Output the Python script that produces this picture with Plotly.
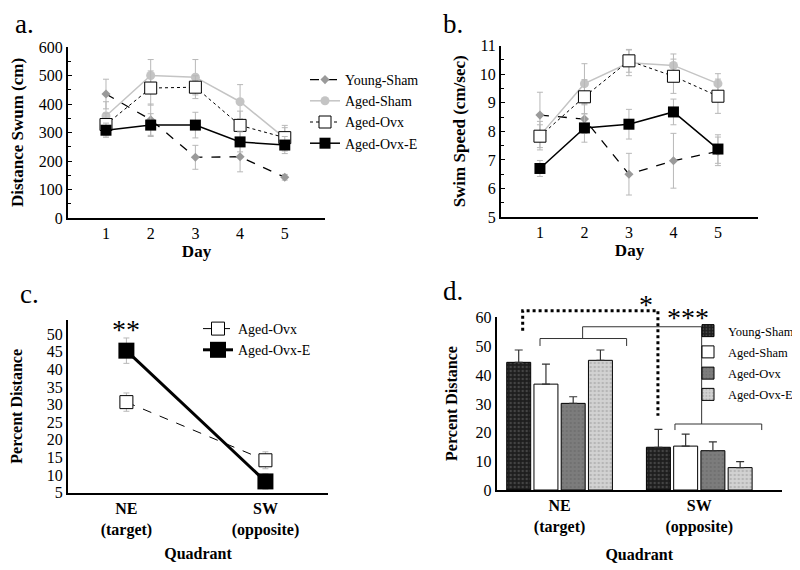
import plotly.graph_objects as go

FONT = "Liberation Serif"

# ---------------- data ----------------
days = [1, 2, 3, 4, 5]
groups = ["Young-Sham", "Aged-Sham", "Aged-Ovx", "Aged-Ovx-E"]

# panel a: distance swum (cm)
dist_young = [435, 345, 213, 215, 143]
dist_young_err = [52, 55, 42, 53, 10]
dist_agedsham = [358, 500, 494, 408, 280]
dist_agedsham_err = [50, 56, 62, 60, 45]
dist_ovx = [328, 456, 459, 325, 282]
dist_ovx_err = [40, 60, 40, 50, 35]
dist_ovxe = [308, 326, 326, 267, 256]
dist_ovxe_err = [25, 40, 45, 35, 30]

# panel b: swim speed (cm/sec)
speed_young = [8.57, 8.43, 6.5, 6.97, 7.3]
speed_young_err = [0.8, 0.5, 0.73, 0.96, 0.5]
speed_agedsham = [7.85, 9.67, 10.4, 10.31, 9.67]
speed_agedsham_err = [0.5, 0.7, 0.45, 0.4, 0.35]
speed_ovx = [7.83, 9.21, 10.47, 9.93, 9.23]
speed_ovx_err = [0.4, 0.6, 0.4, 0.6, 0.6]
speed_ovxe = [6.7, 8.12, 8.25, 8.68, 7.38]
speed_ovxe_err = [0.28, 0.5, 0.52, 0.45, 0.5]

# panel c / d: percent distance by quadrant
quad_pos = [0, 1]
quad_labels = ["<b>NE</b><br><b>(target)</b>", "<b>SW</b><br><b>(opposite)</b>"]
pct_c_ovx = [30.7, 14.2]
pct_c_ovx_err = [2.6, 2.4]
pct_c_ovxe = [45.3, 8.2]
pct_c_ovxe_err = [3.6, 2.2]

pct_young = [44.5, 14.9]
pct_young_err = [4.3, 6.2]
pct_agedsham = [36.9, 15.3]
pct_agedsham_err = [7.0, 4.2]
pct_ovx = [30.2, 13.7]
pct_ovx_err = [2.3, 3.1]
pct_ovxe = [45.2, 7.8]
pct_ovxe_err = [3.6, 2.1]

# ---------------- layout geometry ----------------
# the page body has an 8px margin, so the figure is drawn 8px in from the window corner
OFF = 8
W, H = 800 - OFF, 570 - OFF
def px_x(p): return (p - OFF) / W
def px_y(p): return 1 - (p - OFF) / H

dom = {
    "a": ([px_x(68), px_x(325)], [px_y(218), px_y(47)]),
    "b": ([px_x(501), px_x(758)], [px_y(217), px_y(45.7)]),
    "c": ([px_x(68), px_x(328)], [px_y(492.7), px_y(320)]),
    "d": ([px_x(496.7), px_x(781.7)], [px_y(490), px_y(317)]),
}
rng = {
    "a": ([0.15, 5.9], [0, 600]),
    "b": ([0.125, 5.9], [5, 11]),
    "c": ([-0.42, 1.45], [5, 54]),
    "d": ([-0.45, 1.59], [0, 60.3]),
}

def paper(panel, x, y):
    (dx, dy), (rx, ry) = dom[panel], rng[panel]
    px = dx[0] + (x - rx[0]) / (rx[1] - rx[0]) * (dx[1] - dx[0])
    py = dy[0] + (y - ry[0]) / (ry[1] - ry[0]) * (dy[1] - dy[0])
    return px, py

fig = go.Figure()

ERR = dict(type="data", color="#b8b8b8", thickness=1, width=3, visible=True)

def line_traces(xa, ya, vals, errs, show, legend):
    specs = [
        ("Young-Sham", dict(symbol="diamond", size=7, color="#9a9a9a"), dict(color="black", width=1.3, dash="dash")),
        ("Aged-Sham", dict(symbol="circle", size=9, color="#c4c4c4"), dict(color="#c4c4c4", width=1.5)),
        ("Aged-Ovx", dict(symbol="square", size=12, color="white", line=dict(color="black", width=1)), dict(color="black", width=1, dash="dot")),
        ("Aged-Ovx-E", dict(symbol="square", size=11, color="black"), dict(color="black", width=1.5)),
    ]
    for (name, mk, ln), v, e in zip(specs, vals, errs):
        fig.add_trace(go.Scatter(
            x=days, y=v, name=name, mode="lines+markers", marker=mk, line=ln,
            error_y=dict(array=e, **ERR), xaxis=xa, yaxis=ya,
            showlegend=show, legend=legend, cliponaxis=False))

line_traces("x", "y",
            [dist_young, dist_agedsham, dist_ovx, dist_ovxe],
            [dist_young_err, dist_agedsham_err, dist_ovx_err, dist_ovxe_err], True, "legend")
line_traces("x2", "y2",
            [speed_young, speed_agedsham, speed_ovx, speed_ovxe],
            [speed_young_err, speed_agedsham_err, speed_ovx_err, speed_ovxe_err], False, "legend")

# panel c
fig.add_trace(go.Scatter(
    x=quad_pos, y=pct_c_ovx, name="Aged-Ovx", mode="lines+markers",
    marker=dict(symbol="square", size=13, color="white", line=dict(color="black", width=1)),
    line=dict(color="black", width=1, dash="dash"),
    error_y=dict(array=pct_c_ovx_err, **ERR), xaxis="x3", yaxis="y3",
    legend="legend2", cliponaxis=False))
fig.add_trace(go.Scatter(
    x=quad_pos, y=pct_c_ovxe, name="Aged-Ovx-E", mode="lines+markers",
    marker=dict(symbol="square", size=16, color="black"),
    line=dict(color="black", width=3),
    error_y=dict(array=pct_c_ovxe_err, **ERR), xaxis="x3", yaxis="y3",
    legend="legend2", cliponaxis=False))

# panel d bars
bar_specs = [
    ("Young-Sham", pct_young, pct_young_err, "#1e1e1e", dict(shape=".", fgcolor="#6a6a6a", size=4, solidity=0.3)),
    ("Aged-Sham", pct_agedsham, pct_agedsham_err, "white", dict(shape="")),
    ("Aged-Ovx", pct_ovx, pct_ovx_err, "#7c7c7c", dict(shape=".", fgcolor="#5e5e5e", size=4, solidity=0.2)),
    ("Aged-Ovx-E", pct_ovxe, pct_ovxe_err, "#d2d2d2", dict(shape=".", fgcolor="#9a9a9a", size=4, solidity=0.3)),
]
for name, v, e, col, pat in bar_specs:
    fig.add_trace(go.Bar(
        x=quad_pos, y=v, name=name, legendgroup="d-" + name,
        marker=dict(color=col, line=dict(color="black", width=1), pattern=pat),
        error_y=dict(type="data", array=e, arrayminus=[0, 0], color="#333333", thickness=1.2, width=4),
        xaxis="x4", yaxis="y4", legend="legend3"))

# ---------------- axes ----------------
def axis_common(**kw):
    base = dict(showline=True, linecolor="black", linewidth=2, showgrid=False, zeroline=False,
                automargin=False,
                tickfont=dict(family=FONT, size=16, color="black"), ticks="")
    base.update(kw)
    return base

tf = lambda s: dict(family=FONT, size=s, color="black")

fig.update_layout(
    width=W, height=H, margin=dict(l=0, r=0, t=0, b=0, autoexpand=False),
    paper_bgcolor="white", plot_bgcolor="white",
    font=dict(family=FONT, color="black"),
    barmode="group", bargap=0.22, bargroupgap=0.12,
    xaxis=axis_common(domain=dom["a"][0], range=rng["a"][0], anchor="y", tickvals=days,
                      title=dict(text="<b>Day</b>", font=tf(17), standoff=4)),
    yaxis=axis_common(domain=dom["a"][1], range=rng["a"][1], anchor="x", dtick=100,
                      ticks="inside", ticklen=4, tickcolor="black",
                      minor=dict(dtick=50, ticks="inside", ticklen=3, tickcolor="black"),
                      title=dict(text="<b>Distance Swum (cm)</b>", font=tf(17), standoff=11)),
    xaxis2=axis_common(domain=dom["b"][0], range=rng["b"][0], anchor="y2", tickvals=days,
                       title=dict(text="<b>Day</b>", font=tf(17), standoff=4)),
    yaxis2=axis_common(domain=dom["b"][1], range=rng["b"][1], anchor="x2", dtick=1,
                       ticks="inside", ticklen=4, tickcolor="black",
                       minor=dict(dtick=0.5, ticks="inside", ticklen=3, tickcolor="black"),
                       title=dict(text="<b>Swim Speed (cm/sec)</b>", font=tf(17), standoff=10)),
    xaxis3=axis_common(domain=dom["c"][0], range=rng["c"][0], anchor="y3", tickvals=quad_pos,
                       ticktext=quad_labels,
                       title=dict(text="<b>Quadrant</b>", font=tf(16), standoff=10)),
    yaxis3=axis_common(domain=dom["c"][1], range=rng["c"][1], anchor="x3", dtick=5,
                       title=dict(text="<b>Percent Distance</b>", font=tf(16), standoff=20)),
    xaxis4=axis_common(domain=dom["d"][0], range=rng["d"][0], anchor="y4", tickvals=quad_pos,
                       ticktext=quad_labels,
                       title=dict(text="<b>Quadrant</b>", font=tf(16), standoff=14)),
    yaxis4=axis_common(domain=dom["d"][1], range=rng["d"][1], anchor="x4", dtick=10,
                       title=dict(text="<b>Percent Distance</b>", font=tf(16), standoff=14)),
    legend=dict(x=px_x(305), y=px_y(64), xanchor="left", yanchor="top",
                font=tf(14), bgcolor="rgba(0,0,0,0)", tracegroupgap=0),
    legend2=dict(x=px_x(198), y=px_y(313), xanchor="left", yanchor="top",
                 font=tf(14), bgcolor="rgba(0,0,0,0)"),
    legend3=dict(x=px_x(688), y=px_y(316), xanchor="left", yanchor="top",
                 font=tf(12.5), bgcolor="rgba(0,0,0,0)", tracegroupgap=2),
)

# ---------------- panel letters ----------------
for txt, x, y, anc in [("a.", 14, OFF, "top"), ("b.", 442, OFF, "top"),
                       ("c.", 19, 294, "middle"), ("d.", 442, 291, "middle")]:
    fig.add_annotation(text=txt, x=px_x(x), y=px_y(y), xref="paper", yref="paper",
                       xanchor="left", yanchor=anc, showarrow=False, borderpad=0,
                       font=dict(family=FONT, size=27, color="black"))

# ---------------- significance markers ----------------
def seg_path(panel, pts):
    pp = [paper(panel, x, y) for x, y in pts]
    return "M " + " L ".join(f"{a:.5f},{b:.5f}" for a, b in pp)

fig.add_shape(type="path", xref="paper", yref="paper",
              path=seg_path("d", [(-0.264, 55.5), (-0.264, 62.5), (0.704, 62.5), (0.704, 25.9)]),
              line=dict(color="black", width=3, dash="dot"))
fig.add_shape(type="path", xref="paper", yref="paper",
              path=seg_path("d", [(-0.14, 50.2), (-0.14, 52.8), (0.48, 52.8), (0.48, 50.2)]),
              line=dict(color="#333333", width=1))
fig.add_shape(type="path", xref="paper", yref="paper",
              path=seg_path("d", [(0.165, 52.8), (0.165, 56.9), (1.017, 56.9), (1.017, 23.0)]),
              line=dict(color="#333333", width=1))
fig.add_shape(type="path", xref="paper", yref="paper",
              path=seg_path("d", [(0.826, 20.9), (0.826, 23.0), (1.447, 23.0), (1.447, 20.9)]),
              line=dict(color="#333333", width=1))

for panel, txt, x, y in [("d", "*", 0.62, 64.8), ("d", "***", 0.92, 60.3), ("c", "**", 0.0, 51.4)]:
    px_, py_ = paper(panel, x, y)
    fig.add_annotation(text=txt, x=px_, y=py_, xref="paper", yref="paper", showarrow=False,
                       xanchor="center", yanchor="middle",
                       font=dict(family=FONT, size=28, color="black"))

fig.write_html("out.html")
